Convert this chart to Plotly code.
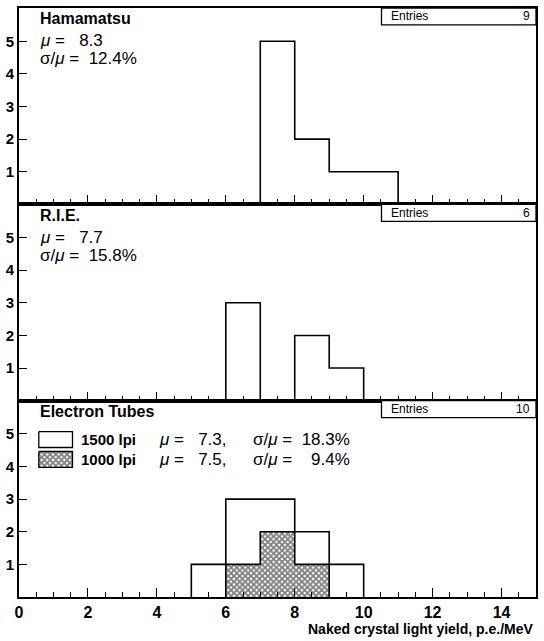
import plotly.graph_objects as go

# ---------------- data ----------------
ham_edges = [7, 8, 9, 10, 11]
ham_counts = [5, 2, 1, 1]
rie_edges = [6, 7, 8, 9, 10]
rie_counts = [3, 0, 2, 1]
et1500_edges = [5, 6, 7, 8, 9, 10]
et1500_counts = [1, 3, 3, 2, 1]
et1000_edges = [6, 7, 8, 9]
et1000_counts = [1, 2, 1]

panel_names = ["Hamamatsu", "R.I.E.", "Electron Tubes"]
entries = [9, 6, 10]
x_ticks = [0, 2, 4, 6, 8, 10, 12, 14]
y_ticks = [1, 2, 3, 4, 5]
x_title = "Naked crystal light yield, p.e./MeV"

# ---------------- geometry helpers ----------------
W, H = 544, 641
L, R, T, B = 16, 538, 6, 597
XMAX, YMAX = 15, 6.02
PANEL_H = (B - T) / 3


def px(x):
    return (x - L) / (R - L)


def py(y):
    return 1 - (y - T) / (B - T)


def dx(x):  # pixel -> data x
    return (x - L) / (R - L) * XMAX


def dy3(y):  # pixel -> data y of bottom panel
    return (B - y) / PANEL_H * YMAX


def step(edges, counts):
    xs = [edges[0]] + list(edges[:-1]) + [edges[-1]]
    ys = [0] + list(counts) + [0]
    return xs, ys


fig = go.Figure()

THIN = "Liberation Sans"
BOLD = "Liberation Sans"
HATCH = dict(shape="x", fgcolor="black", bgcolor="white", size=4, solidity=0.7)

# hatched 1000 lpi histogram
centers = [(a + b) / 2 for a, b in zip(et1000_edges[:-1], et1000_edges[1:])]
fig.add_trace(go.Bar(
    x=centers, y=et1000_counts, width=1, xaxis="x3", yaxis="y3",
    marker=dict(color="white", line=dict(width=0), pattern=HATCH),
    hoverinfo="skip"))

for (edges, counts), xa, ya in [((ham_edges, ham_counts), "x", "y"),
                                ((rie_edges, rie_counts), "x2", "y2"),
                                ((et1500_edges, et1500_counts), "x3", "y3"),
                                ((et1000_edges, et1000_counts), "x3", "y3")]:
    xs, ys = step(edges, counts)
    fig.add_trace(go.Scatter(x=xs, y=ys, mode="lines", line_shape="hv",
                             line=dict(color="black", width=1.6),
                             xaxis=xa, yaxis=ya, hoverinfo="skip"))

# legend boxes in bottom panel
bx0, bx1 = dx(36), dx(70)
box_rows = [(431, 447, False), (451, 467, True)]
for y0, y1, hatched in box_rows:
    kw = dict(fillpattern=HATCH) if hatched else {}
    fig.add_trace(go.Scatter(
        x=[bx0, bx1, bx1, bx0, bx0],
        y=[dy3(y0), dy3(y0), dy3(y1), dy3(y1), dy3(y0)],
        xaxis="x3", yaxis="y3", mode="lines", fill="toself", fillcolor="white",
        line=dict(color="black", width=1.3), hoverinfo="skip", **kw))

domains = [[2 / 3, 1], [1 / 3, 2 / 3], [0, 1 / 3]]
layout = dict(width=W, height=H,
              margin=dict(l=L, r=W - R, t=T, b=H - B),
              plot_bgcolor="white", paper_bgcolor="white",
              showlegend=False, bargap=0)
for i in range(3):
    sx = "" if i == 0 else str(i + 1)
    layout["xaxis" + sx] = dict(
        domain=[0, 1], anchor="y" + sx, range=[0, XMAX],
        tickmode="array", tickvals=x_ticks,
        ticks="inside", ticklen=9, tickwidth=1, tickcolor="black",
        minor=dict(dtick=0.5, tick0=0, ticks="inside", ticklen=5,
                   tickwidth=1, tickcolor="black"),
        showticklabels=(i == 2),
        tickfont=dict(family=BOLD, size=16, color="black", weight="bold"),
        showline=True, linecolor="black", linewidth=2, mirror=True,
        showgrid=False, zeroline=False, fixedrange=True)
    if i > 0:
        layout["xaxis" + sx]["matches"] = "x"
    layout["yaxis" + sx] = dict(
        domain=domains[i], anchor="x" + sx, range=[0, YMAX],
        tickmode="array", tickvals=y_ticks,
        ticks="inside", ticklen=8, tickwidth=1, tickcolor="black",
        tickfont=dict(family=BOLD, size=15, color="black", weight="bold"),
        showline=True, linecolor="black", linewidth=2, mirror=True,
        showgrid=False, zeroline=False, fixedrange=True)
fig.update_layout(**layout)

shapes = []
annotations = []
panel_tops = [6, 203, 400]
for i, top in enumerate(panel_tops):
    shapes.append(dict(type="rect", xref="paper", yref="paper",
                       x0=px(382), x1=px(538), y0=py(top + 17), y1=py(top),
                       line=dict(color="black", width=1.3), fillcolor="white"))
    annotations.append(dict(text="Entries", xref="paper", yref="paper",
                            x=px(390), y=py(top + 8.5), xanchor="left",
                            yanchor="middle", showarrow=False,
                            font=dict(family=THIN, size=12, color="black")))
    annotations.append(dict(text=str(entries[i]), xref="paper", yref="paper",
                            x=px(534), y=py(top + 8.5), xanchor="right",
                            yanchor="middle", showarrow=False,
                            font=dict(family=THIN, size=12, color="black")))
    annotations.append(dict(text="<b>%s</b>" % panel_names[i], xref="paper",
                            yref="paper", x=px(35), y=py(top + 11),
                            xanchor="left", yanchor="middle", showarrow=False,
                            font=dict(family=BOLD, size=16, color="black")))

stat_lines = [
    (39, "<i>μ</i> =   8.3"), (57, "σ/<i>μ</i> =  12.4%"),
    (236, "<i>μ</i> =   7.7"), (254, "σ/<i>μ</i> =  15.8%"),
]
for y, t in stat_lines:
    annotations.append(dict(text=t, xref="paper", yref="paper", x=px(35),
                            y=py(y), xanchor="left", yanchor="middle",
                            showarrow=False,
                            font=dict(family=THIN, size=17, color="black")))

leg = [(439, "1500 lpi", "<i>μ</i> =   7.3,", "σ/<i>μ</i> =  18.3%"),
       (459, "1000 lpi", "<i>μ</i> =   7.5,", "σ/<i>μ</i> =    9.4%")]
for y, lab, m, s in leg:
    annotations.append(dict(text="<b>%s</b>" % lab, xref="paper", yref="paper",
                            x=px(77), y=py(y), xanchor="left", yanchor="middle",
                            showarrow=False,
                            font=dict(family=BOLD, size=15, color="black")))
    annotations.append(dict(text=m, xref="paper", yref="paper", x=px(155),
                            y=py(y), xanchor="left", yanchor="middle",
                            showarrow=False,
                            font=dict(family=THIN, size=17, color="black")))
    annotations.append(dict(text=s, xref="paper", yref="paper", x=px(250),
                            y=py(y), xanchor="left", yanchor="middle",
                            showarrow=False,
                            font=dict(family=THIN, size=17, color="black")))

annotations.append(dict(text="<b>%s</b>" % x_title, xref="paper", yref="paper",
                        x=px(538), y=py(629), xanchor="right", yanchor="middle",
                        showarrow=False,
                        font=dict(family=BOLD, size=14, color="black")))

fig.update_layout(shapes=shapes, annotations=annotations)
fig.write_html("out.html", config={"displayModeBar": False},
               post_script="document.body.style.margin='0';"
                           "document.body.style.overflow='hidden';")
